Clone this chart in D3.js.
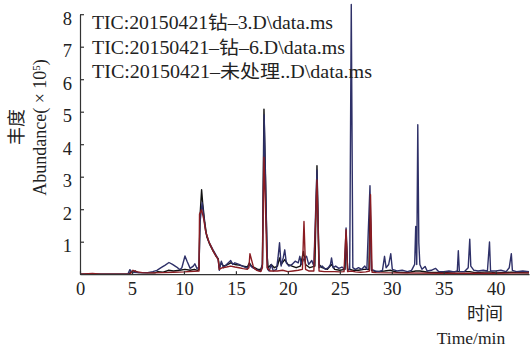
<!DOCTYPE html>
<html><head><meta charset="utf-8">
<script src="https://cdn.jsdelivr.net/npm/d3@7"></script>
<style>
html,body{margin:0;padding:0;background:#fff;}
svg text{font-family:"Liberation Serif","Noto Sans CJK SC",serif;fill:#222;}
</style></head>
<body><svg id="c" width="530" height="351"></svg>
<script>
const xTicks = [0,5,10,15,20,25,30,35,40];
const yTicks = [1,2,3,4,5,6,7,8];
const legendLabels = ["TIC:20150421钻–3.D\\data.ms","TIC:20150421–钻–6.D\\data.ms","TIC:20150421–未处理..D\\data.ms"];
const legendWidths = [241,253,280];
const seriesColors = ["#111111","#2e3068","#8a1c22"];

const black = [[0,0],[4.7,0],[4.9,0.08],[5.1,0.05],[5.3,0.1],[5.6,0.05],[6.5,0.04],[7.2,0.04],[7.5,0.08],[8.0,0.06],[8.5,0.12],[9.0,0.1],[9.6,0.12],[10.1,0.15],[10.6,0.12],[11.0,0.15],[11.3,0.12],[11.45,0.15],[11.55,1.8],[11.7,2.6],[11.8,2.2],[12.0,1.6],[12.2,1.15],[12.5,0.9],[12.8,0.72],[13.1,0.55],[13.3,0.48],[13.4,0.2],[13.6,0.35],[13.8,0.25],[14.1,0.28],[14.5,0.35],[14.9,0.3],[15.3,0.28],[15.7,0.25],[16.1,0.22],[16.3,0.35],[16.5,0.25],[16.8,0.2],[17.1,0.15],[17.4,0.15],[17.55,0.3],[17.7,5.08],[17.85,3.0],[18.0,0.6],[18.1,0.2],[18.4,0.3],[18.7,0.2],[19.0,0.25],[19.2,0.5],[19.35,0.3],[19.7,0.45],[20.0,0.3],[20.4,0.25],[20.8,0.2],[21.2,0.25],[21.5,0.7],[21.7,0.3],[22.1,0.2],[22.6,0.25],[22.8,3.34],[23.0,0.3],[23.3,0.2],[23.8,0.15],[24.2,0.3],[24.5,0.15],[25.0,0.12],[25.5,0.15],[25.6,1.2],[25.75,0.15],[26.0,0.15],[26.3,0.12],[26.8,0.12],[27.3,0.15],[27.8,0.15],[27.9,2.3],[28.05,0.12],[28.5,0.08],[29.3,0.1],[29.9,0.12],[30.5,0.06],[31.5,0.05],[32.3,0.1],[32.7,0.1],[33.5,0.06],[35,0.05],[36.4,0.08],[37.5,0.08],[38,0.05],[39.4,0.07],[40,0.04],[41.5,0.06],[43.2,0.04]];

const blue = [[0,0],[4.6,0],[4.8,0.14],[5.0,0.06],[5.5,0.05],[6.5,0.05],[7.0,0.08],[7.4,0.12],[7.8,0.2],[8.2,0.28],[8.56,0.36],[8.9,0.3],[9.3,0.22],[9.6,0.14],[9.8,0.2],[10.1,0.56],[10.3,0.4],[10.6,0.18],[10.9,0.25],[11.05,0.32],[11.25,0.18],[11.45,0.2],[11.55,1.6],[11.75,2.2],[11.9,1.8],[12.1,1.3],[12.4,1.0],[12.8,0.75],[13.1,0.58],[13.3,0.45],[13.4,0.12],[13.6,0.4],[13.8,0.2],[14.1,0.3],[14.5,0.42],[14.7,0.3],[14.9,0.35],[15.3,0.3],[15.7,0.24],[16.1,0.18],[16.3,0.3],[16.6,0.2],[17.1,0.12],[17.4,0.1],[17.55,0.3],[17.72,4.9],[17.9,2.0],[18.05,0.15],[18.2,0.1],[18.4,0.3],[18.6,0.1],[18.9,0.15],[19.05,0.5],[19.2,0.97],[19.35,0.25],[19.55,0.5],[19.7,0.75],[19.85,0.35],[20.1,0.25],[20.4,0.3],[20.7,0.4],[21.0,0.35],[21.15,0.55],[21.3,0.3],[21.5,0.45],[21.8,0.55],[22.0,0.3],[22.3,0.42],[22.5,0.25],[22.8,3.2],[23.0,0.2],[23.3,0.25],[23.6,0.15],[23.9,0.2],[24.1,0.3],[24.2,0.5],[24.35,0.2],[24.6,0.25],[24.9,0.18],[25.2,0.22],[25.45,0.15],[25.6,1.42],[25.75,0.12],[25.95,0.15],[26.1,8.3],[26.25,0.2],[26.5,0.15],[26.8,0.2],[27.1,0.15],[27.4,0.25],[27.6,0.15],[27.9,2.72],[28.05,0.15],[28.4,0.1],[28.8,0.08],[29.1,0.12],[29.3,0.55],[29.45,0.2],[29.7,0.3],[29.9,0.63],[30.05,0.15],[30.5,0.1],[31.0,0.12],[31.5,0.08],[31.9,0.12],[32.2,0.3],[32.3,1.47],[32.4,0.3],[32.5,4.6],[32.6,0.96],[32.7,0.3],[32.9,0.15],[33.2,0.24],[33.4,0.1],[33.8,0.12],[34.2,0.18],[34.5,0.08],[35,0.08],[35.5,0.1],[36,0.07],[36.3,0.1],[36.4,0.72],[36.5,0.08],[37,0.08],[37.35,0.2],[37.5,1.08],[37.6,0.25],[37.9,0.12],[38.3,0.1],[38.8,0.12],[39.2,0.1],[39.4,0.99],[39.5,0.1],[40,0.1],[40.5,0.12],[41,0.08],[41.3,0.2],[41.5,0.63],[41.6,0.12],[42,0.08],[42.6,0.1],[43.2,0.08]];

const red = [[0,0],[1.2,0.02],[2,0],[4.8,0],[5.1,0.12],[5.4,0.08],[6,0.05],[7,0.04],[8,0.05],[9,0.06],[10,0.07],[11,0.09],[11.45,0.1],[11.5,1.85],[11.7,1.98],[11.9,1.7],[12.1,1.3],[12.4,1.0],[12.8,0.72],[13.1,0.55],[13.3,0.45],[13.4,0.15],[13.7,0.2],[14.1,0.22],[14.5,0.25],[14.9,0.22],[15.3,0.2],[15.7,0.17],[16.1,0.15],[16.25,0.2],[16.35,0.63],[16.5,0.45],[16.7,0.2],[17.0,0.12],[17.4,0.08],[17.55,0.2],[17.7,3.6],[17.85,2.0],[18.0,0.2],[18.3,0.1],[19,0.1],[19.5,0.12],[20,0.08],[20.5,0.1],[21,0.12],[21.4,0.15],[21.55,1.62],[21.7,0.15],[22,0.1],[22.5,0.1],[22.8,2.9],[23.0,0.1],[23.5,0.08],[24,0.08],[24.5,0.08],[25,0.07],[25.4,0.08],[25.6,1.37],[25.75,0.08],[26.1,0.1],[26.5,0.07],[27,0.06],[27.5,0.07],[27.85,0.1],[27.95,2.45],[28.1,0.06],[28.5,0.05],[30,0.04],[35,0.03],[40,0.03],[43.2,0.04]];

const svg = d3.select("#c");
const x = d3.scaleLinear().domain([0,43.2]).range([80,529]);
const y = d3.scaleLinear().domain([0,8]).range([274.2,14.2]);

const line = d3.line().x(d=>x(d[0])).y(d=>y(d[1]));
[black, blue, red].forEach((s,i)=>{
  svg.append("path").datum(s).attr("d",line).attr("fill","none")
    .attr("stroke",seriesColors[i]).attr("stroke-width",1.4).attr("stroke-linejoin","round");
});

const xa = svg.append("g").attr("transform","translate(0,274.2)")
  .call(d3.axisBottom(x).tickValues(xTicks).tickSizeInner(-3).tickSizeOuter(0).tickPadding(7));
const ya = svg.append("g").attr("transform","translate(80,0)")
  .call(d3.axisLeft(y).tickValues(yTicks).tickSizeInner(-4).tickSizeOuter(0).tickPadding(8));
[xa,ya].forEach(g=>{
  g.selectAll("path,line").attr("stroke","#333").attr("stroke-width",1.2);
  g.selectAll("text").attr("font-size",18.5).attr("fill","#222").style("font-family","Liberation Serif");
});
ya.selectAll("text").attr("dy","0.55em");
xa.selectAll("text").attr("dy","0.72em");

const lg = svg.append("g");
legendLabels.forEach((t,i)=>{
  lg.append("text").attr("x",92).attr("y",29+i*24.5).attr("font-size",18.5)
    .attr("textLength",legendWidths[i]).attr("lengthAdjust","spacingAndGlyphs").text(t);
});

svg.append("text").attr("transform","translate(23,127) rotate(-90)").attr("text-anchor","middle")
  .attr("font-size",18).text("丰度");
svg.append("text").attr("transform","translate(46,127.5) rotate(-90)").attr("text-anchor","middle")
  .attr("font-size",18).html("Abundance( × 10<tspan baseline-shift='super' font-size='11'>5</tspan>)");
svg.append("text").attr("x",485).attr("y",320).attr("text-anchor","middle").attr("font-size",18).text("时间");
svg.append("text").attr("x",471).attr("y",344).attr("text-anchor","middle").attr("font-size",17.5).text("Time/min");
</script></body></html>
